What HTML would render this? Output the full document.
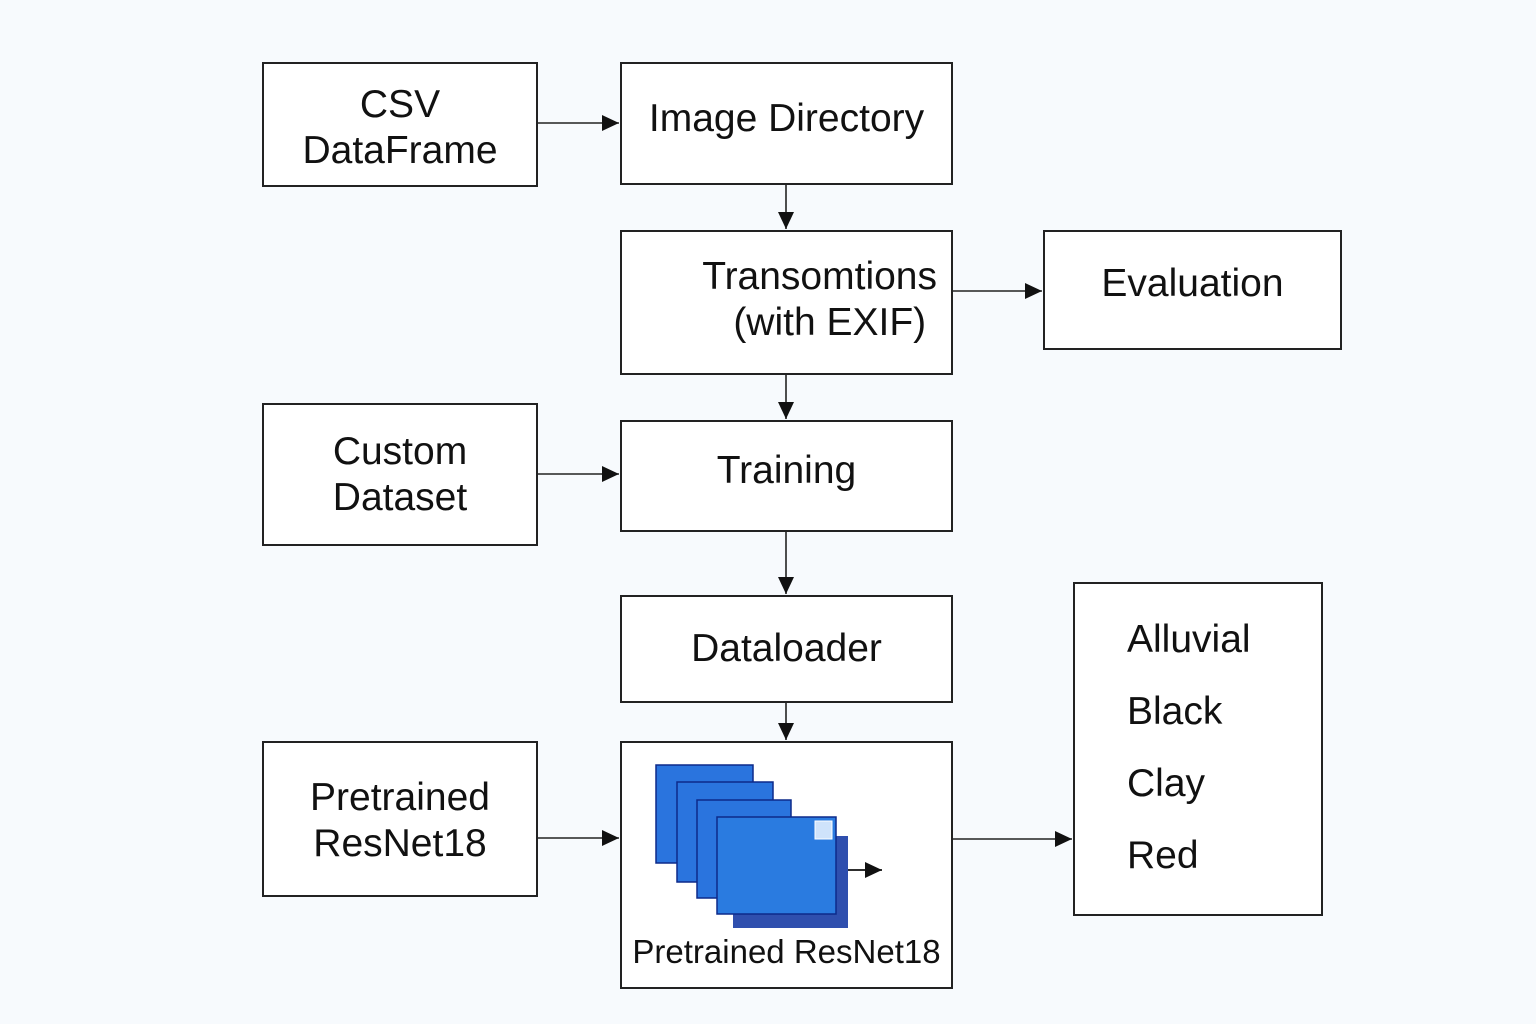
<!DOCTYPE html>
<html><head><meta charset="utf-8"><style>
body{margin:0;width:1536px;height:1024px;background:#f7fafd;overflow:hidden;font-family:"Liberation Sans",sans-serif;}
.b{position:absolute;background:#fff;border:2px solid #222;box-sizing:border-box;display:flex;align-items:center;justify-content:center;text-align:center;font-size:39px;line-height:46px;color:#111;}
svg{position:absolute;left:0;top:0}
</style></head><body>
<div class="b" style="left:262px;top:62px;width:276px;height:125px;padding-top:6px;">CSV<br>DataFrame</div>
<div class="b" style="left:620px;top:62px;width:333px;height:123px;padding-bottom:10px;">Image Directory</div>
<div class="b" style="left:620px;top:230px;width:333px;height:145px;justify-content:flex-end;text-align:right;padding-right:14px;padding-bottom:6px;">Transomtions<br>(with EXIF)&nbsp;</div>
<div class="b" style="left:1043px;top:230px;width:299px;height:120px;padding-bottom:12px;">Evaluation</div>
<div class="b" style="left:262px;top:403px;width:276px;height:143px;">Custom<br>Dataset</div>
<div class="b" style="left:620px;top:420px;width:333px;height:112px;padding-bottom:10px;">Training</div>
<div class="b" style="left:620px;top:595px;width:333px;height:108px;">Dataloader</div>
<div class="b" style="left:262px;top:741px;width:276px;height:156px;padding-top:4px;">Pretrained<br>ResNet18</div>
<div class="b" style="left:620px;top:741px;width:333px;height:248px;align-items:flex-end;padding-bottom:12px;font-size:33px;">Pretrained ResNet18</div>
<div class="b" style="left:1073px;top:582px;width:250px;height:334px;display:block;text-align:left;padding:20px 0 0 52px;line-height:72px;">Alluvial<br>Black<br>Clay<br>Red</div>
<svg width="1536" height="1024">
<defs>
<marker id="c" markerWidth="18" markerHeight="18" refX="17" refY="8" orient="auto" markerUnits="userSpaceOnUse"><path d="M0,0 L17,8 L0,16 z" fill="#111"/></marker></defs>
<g stroke="#222" stroke-width="1.6" fill="none" marker-end="url(#c)">
<line x1="538" y1="123" x2="619" y2="123"/>
<line x1="786" y1="185" x2="786" y2="229"/>
<line x1="953" y1="291" x2="1042" y2="291"/>
<line x1="786" y1="375" x2="786" y2="419"/>
<line x1="538" y1="474" x2="619" y2="474"/>
<line x1="786" y1="532" x2="786" y2="594"/>
<line x1="786" y1="703" x2="786" y2="740"/>
<line x1="538" y1="838" x2="619" y2="838"/>
<line x1="953" y1="839" x2="1072" y2="839"/>
</g>
<g stroke="#0d2a8a" stroke-width="1.5">
<rect x="656" y="765" width="97" height="98" fill="#2a74de"/>
<rect x="677" y="782" width="96" height="100" fill="#2a74de"/>
<rect x="697" y="800" width="94" height="98" fill="#2a74de"/>
<rect x="733" y="836" width="115" height="92" fill="#2f4fae" stroke="none"/>
<rect x="717" y="817" width="119" height="97" fill="#2a7be0"/>
</g>
<rect x="815" y="821" width="17" height="18" fill="#cfe3fb" stroke="#fff" stroke-width="1"/>
<line x1="848" y1="870" x2="882" y2="870" stroke="#111" stroke-width="1.8" marker-end="url(#c)"/>
</svg>
</body></html>
